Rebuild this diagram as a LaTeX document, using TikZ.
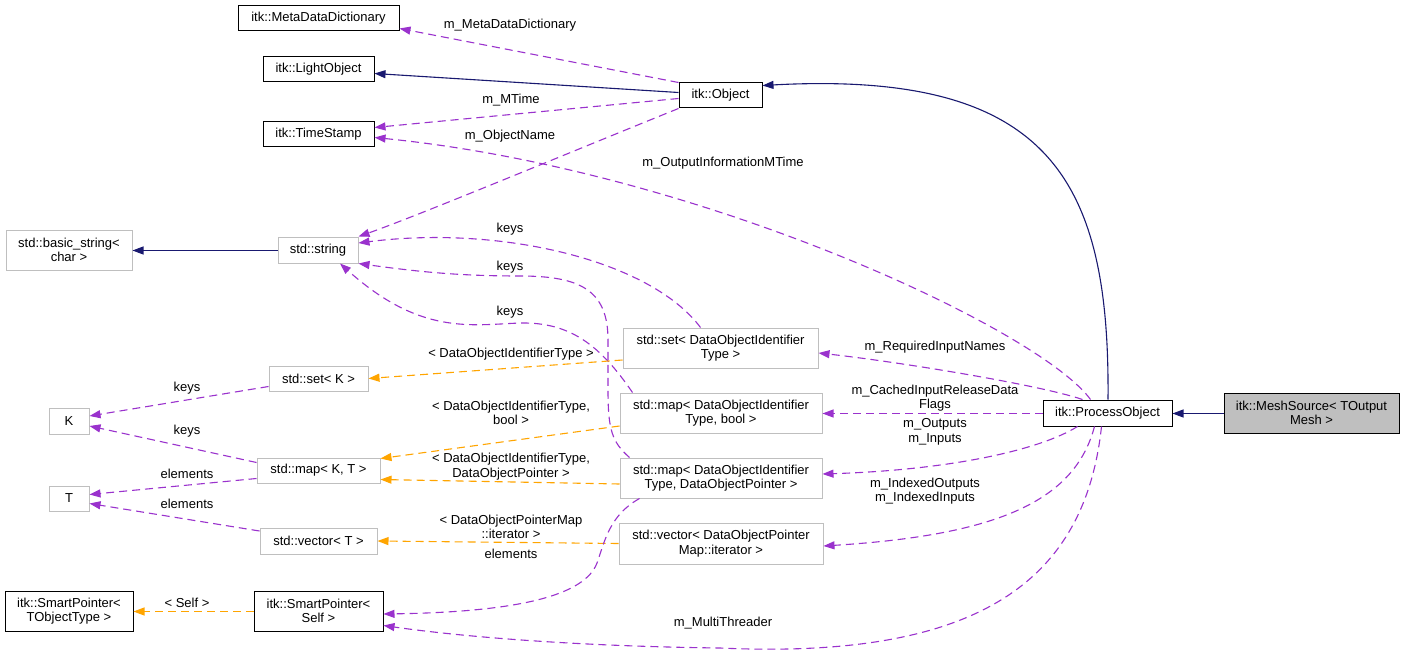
\documentclass[tikz,border=0pt]{standalone}
\usepackage{fontspec}
\setmainfont{Liberation Sans}
\usetikzlibrary{arrows.meta,calc}
\definecolor{navy}{RGB}{25,25,112}
\definecolor{orchid}{RGB}{154,50,205}
\definecolor{orng}{RGB}{255,165,0}
\definecolor{gborder}{RGB}{191,191,191}
\begin{document}
\begin{tikzpicture}[x=1pt,y=-1pt,
  every node/.style={font=\fontsize{13}{14.5}\selectfont},
  box/.style={draw=black, line width=1pt, fill=white, inner sep=0pt, align=center, rectangle},
  gbox/.style={box, draw=gborder},
  lbl/.style={align=center, inner sep=0pt},
  inh/.style={draw=navy, line width=1.1pt, -{Triangle[length=11pt,width=8pt]}},
  use/.style={draw=orchid, line width=1.1pt, dash pattern=on 8pt off 5pt, -{Triangle[length=11pt,width=8pt]}},
  tmpl/.style={draw=orng, line width=1.1pt, dash pattern=on 8pt off 5pt, -{Triangle[length=11pt,width=8pt]}}]
\fill[white] (0,0) rectangle (1405,655);
\useasboundingbox (0,0) rectangle (1405,655);

% nodes
\node[box, minimum width=161pt, minimum height=25pt] (mdd) at (318.5,18.5) {itk::MetaDataDictionary};
\node[box, minimum width=111pt, minimum height=25pt] (lo) at (318.5,69.5) {itk::LightObject};
\node[box, minimum width=111pt, minimum height=25pt] (ts) at (318.5,134.5) {itk::TimeStamp};
\node[gbox, minimum width=126pt, minimum height=40pt] (bs) at (69,250) {std::basic\_string<\\char >};
\node[gbox, minimum width=80pt, minimum height=26pt] (str) at (318,250) {std::string};
\node[box, minimum width=83pt, minimum height=25pt] (obj) at (720.5,95.5) {itk::Object};
\node[gbox, minimum width=195pt, minimum height=40pt] (setD) at (720.5,348) {std::set< DataObjectIdentifier\\Type >};
\node[gbox, minimum width=99pt, minimum height=25pt] (setK) at (318.5,378.5) {std::set< K >};
\node[gbox, minimum width=40pt, minimum height=26pt] (K) at (69,421) {K};
\node[gbox, minimum width=202pt, minimum height=40pt] (mapDb) at (721,413) {std::map< DataObjectIdentifier\\Type, bool >};
\node[box, minimum width=129pt, minimum height=26pt] (po) at (1107.5,413) {itk::ProcessObject};
\node[box, fill=gborder, minimum width=175pt, minimum height=40pt] (ms) at (1311.5,413) {itk::MeshSource< TOutput\\Mesh >};
\node[gbox, minimum width=123pt, minimum height=25pt] (mapKT) at (318.5,470.5) {std::map< K, T >};
\node[gbox, minimum width=40pt, minimum height=25pt] (T) at (69,498.5) {T};
\node[gbox, minimum width=202pt, minimum height=40pt] (mapDP) at (721,478) {std::map< DataObjectIdentifier\\Type, DataObjectPointer >};
\node[gbox, minimum width=117pt, minimum height=26pt] (vecT) at (318.5,541) {std::vector< T >};
\node[gbox, minimum width=204pt, minimum height=41pt] (vecD) at (721,543.5) {std::vector< DataObjectPointer\\Map::iterator >};
\node[box, minimum width=128pt, minimum height=40pt] (spT) at (69,611) {itk::SmartPointer<\\TObjectType >};
\node[box, minimum width=129pt, minimum height=40pt] (spS) at (318.5,611) {itk::SmartPointer<\\Self >};

% connectors
\draw[use] (obj.north west) -- ($(mdd.south east)+(0,-3)$);
\draw[inh] ($(obj.west)+(0,-3)$) -- ($(lo.east)+(0,4)$);
\draw[use] ($(obj.west)+(0,3)$) -- ($(ts.east)+(0,-7)$);
\draw[use] ($(po.north)+(-17,0)$) .. controls (1040,330) and (700,170) .. ($(ts.east)+(0,3)$);
\draw[use] (obj.south west) .. controls (600,140) and (420,215) .. (str.north east);
\draw[inh] ($(po.north)+(0.5,0)$) .. controls (1110,180) and (1050,70) .. ($(obj.north east)+(0,3)$);
\draw[inh] ($(str.west)+(0,0.5)$) -- ($(bs.east)+(0,0.5)$);
\draw[use] ($(setD.north)+(-20,0)$) .. controls (650,260) and (500,225) .. ($(str.east)+(0,-7)$);
\draw[use] ($(mapDP.north west)+(10,0)$) .. controls (612,442) and (608,430) .. (608,390) -- (608,340) .. controls (608,290) and (580,276) .. (520,276) .. controls (460,276) and (420,272) .. (str.south east);
\draw[use] ($(mapDb.north west)+(13,0)$) .. controls (600,345) and (570,322) .. (520,323) .. controls (470,325) and (420,335) .. ($(str.south)+(22,0)$);

\draw[tmpl] ($(setD.west)+(0,12)$) -- (setK.east);
\draw[tmpl] ($(mapDb.west)+(0,13)$) -- ($(mapKT.north east)+(0,1)$);
\draw[tmpl] ($(mapDP.west)+(0,6)$) -- ($(mapKT.east)+(0,9)$);
\draw[tmpl] (vecD.west) -- (vecT.east);
\draw[tmpl] ($(spS.west)+(0,0.5)$) -- ($(spT.east)+(0,0.5)$);

\draw[use] ($(setK.west)+(0,8)$) -- ($(K.east)+(0,-5)$);
\draw[use] ($(mapKT.west)+(0,-8)$) -- ($(K.east)+(0,5)$);
\draw[use] ($(mapKT.west)+(0,8)$) -- ($(T.east)+(0,-4)$);
\draw[use] ($(vecT.west)+(0,-10)$) -- ($(T.east)+(0,5)$);

\draw[inh] ($(ms.west)+(0,0.5)$) -- ($(po.east)+(0,0.5)$);
\draw[use] ($(po.north west)+(40,0)$) .. controls (1040,385) and (900,362) .. ($(setD.east)+(0,5)$);
\draw[use] ($(po.west)+(0,0.5)$) -- ($(mapDb.east)+(0,0.5)$);
\draw[use] ($(po.south west)+(35,0)$) .. controls (1040,450) and (950,470) .. ($(mapDP.east)+(0,-4)$);
\draw[use] ($(po.south west)+(52,0)$) .. controls (1075,500) and (1000,535) .. ($(vecD.east)+(0,2.5)$);
\draw[use] ($(po.south west)+(59,0)$) .. controls (1085,580) and (980,660) .. (720,648) .. controls (560,646) and (450,635) .. ($(spS.south east)+(0,-6)$);
\draw[use] ($(mapDP.south west)+(20,0)$) .. controls (610,515) and (605,540) .. (597,563) .. controls (585,595) and (520,612) .. ($(spS.east)+(0,3)$);

% labels
\node[lbl] (l1) at (510,25) {m\_MetaDataDictionary};
\node[lbl] (l2) at (511,100) {m\_MTime};
\node[lbl] (l3) at (510,136) {m\_ObjectName};
\node[lbl] (l4) at (723,163) {m\_OutputInformationMTime};
\node[lbl] (l5) at (510,229) {keys};
\node[lbl] (l6) at (510,267) {keys};
\node[lbl] (l7) at (510,312) {keys};
\node[lbl] (l8) at (511,354) {< DataObjectIdentifierType >};
\node[lbl] (l9) at (511,413) {< DataObjectIdentifierType,\\bool >};
\node[lbl] (l10) at (511,466.5) {< DataObjectIdentifierType,\\DataObjectPointer >};
\node[lbl] (l11) at (511,527) {< DataObjectPointerMap\\::iterator >};
\node[lbl] (l12) at (511,554) {elements};
\node[lbl] (l13) at (187,388) {keys};
\node[lbl] (l14) at (187,431) {keys};
\node[lbl] (l15) at (187,474) {elements};
\node[lbl] (l16) at (187,504) {elements};
\node[lbl] (l17) at (187,603) {< Self >};
\node[lbl] (l18) at (935,347) {m\_RequiredInputNames};
\node[lbl] (l19) at (935,398) {m\_CachedInputReleaseData\\Flags};
\node[lbl] (l20) at (935,432) {m\_Outputs\\m\_Inputs};
\node[lbl] (l21) at (925,491) {m\_IndexedOutputs\\m\_IndexedInputs};
\node[lbl] (l22) at (723,623) {m\_MultiThreader};
\end{tikzpicture}
\end{document}
